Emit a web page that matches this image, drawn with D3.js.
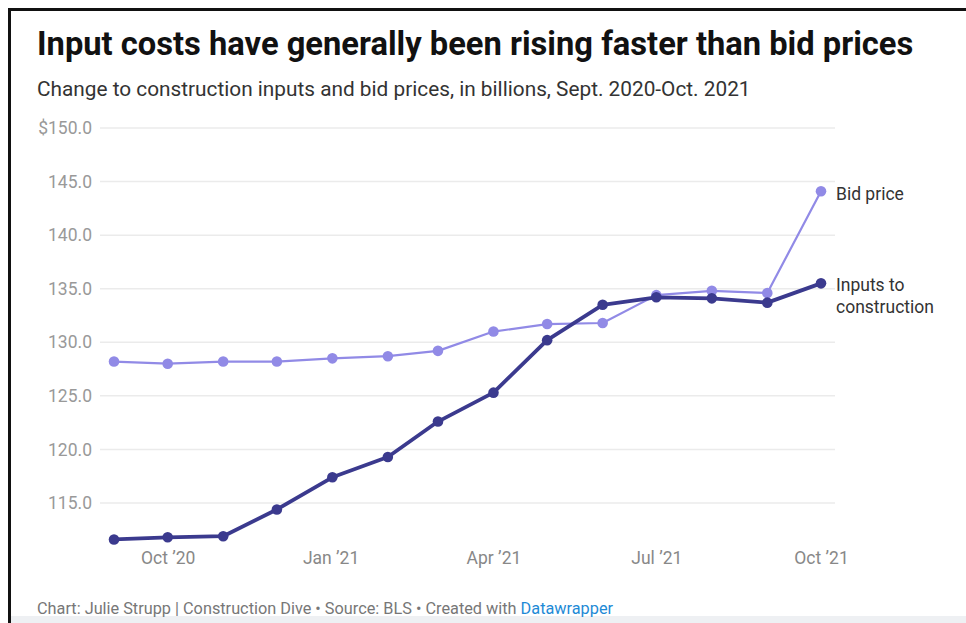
<!DOCTYPE html>
<html><head><meta charset="utf-8">
<script src="https://cdn.jsdelivr.net/npm/d3@7"></script>
<style>html,body{margin:0;padding:0;background:#fff;}svg{display:block;font-family:Roboto,"Noto Sans",sans-serif;}</style>
</head><body>
<svg id="c" width="966" height="623"></svg>
<script>
const months = ["2020-09","2020-10","2020-11","2020-12","2021-01","2021-02","2021-03","2021-04","2021-05","2021-06","2021-07","2021-08","2021-09","2021-10"];
const inputs = [111.6,111.8,111.9,114.4,117.4,119.3,122.6,125.3,130.2,133.5,134.2,134.1,133.7,135.5];
const bidPrice = [128.2,128.0,128.2,128.2,128.5,128.7,129.2,131.0,131.7,131.8,134.4,134.8,134.6,144.1];
const yTicks = [115,120,125,130,135,140,145,150];
const xTicks = ["2020-10","2020-12-31","2021-04","2021-07","2021-10"];
const xTickLabels = ["Oct \u201920","Jan \u201921","Apr \u201921","Jul \u201921","Oct \u201921"];

const parse = d3.timeParse("%Y-%m");
const dates = months.map(parse);
const svg = d3.select("#c");

// frame
svg.append("rect").attr("x",10).attr("y",616).attr("width",956).attr("height",7).attr("fill","#eef0f3");
svg.append("path").attr("d","M9.5,623V9.5H966").attr("fill","none").attr("stroke","#111").attr("stroke-width",3);

svg.append("text").attr("x",37).attr("y",55).attr("font-size",32.7).attr("font-weight",700).attr("fill","#111")
  .text("Input costs have generally been rising faster than bid prices");
svg.append("text").attr("x",37).attr("y",96).attr("font-size",20.8).attr("fill","#333")
  .text("Change to construction inputs and bid prices, in billions, Sept. 2020-Oct. 2021");

const x = d3.scaleTime().domain([dates[0], dates[dates.length-1]]).range([114,821]);
const y = d3.scaleLinear().domain([115,150]).range([503,128]);

// grid
const yAxis = d3.axisLeft(y).tickValues(yTicks).tickSize(0).tickPadding(0)
  .tickFormat(d => d===150 ? "$150.0" : d.toFixed(1));
const gy = svg.append("g").attr("transform","translate(92,0)").call(yAxis);
gy.select(".domain").remove();
gy.selectAll("text").attr("font-size",17.5).attr("fill","#999").attr("font-family","Roboto");
svg.append("g").selectAll("line").data(yTicks).join("line")
  .attr("x1",100).attr("x2",835).attr("y1",d=>y(d)).attr("y2",d=>y(d))
  .attr("stroke","#ebebeb").attr("stroke-width",1.5);

const xAxis = d3.axisBottom(x).tickValues(xTicks.map(t=>t.length>7?d3.timeParse("%Y-%m-%d")(t):parse(t)))
  .tickSize(0).tickPadding(0).tickFormat((d,i)=>xTickLabels[i]);
const gx = svg.append("g").attr("transform","translate(0,552)").call(xAxis);
gx.select(".domain").remove();
gx.selectAll("text").attr("font-size",17.5).attr("fill","#888").attr("font-family","Roboto");

const line = d3.line().x((d,i)=>x(dates[i])).y(d=>y(d));
const series = [
  {vals: bidPrice, color:"#918ae6", w:2.2},
  {vals: inputs, color:"#3b3a8e", w:3.8}
];
series.forEach(s=>{
  svg.append("path").datum(s.vals).attr("d",line).attr("fill","none")
    .attr("stroke",s.color).attr("stroke-width",s.w).attr("stroke-linejoin","round");
  svg.append("g").selectAll("circle").data(s.vals).join("circle")
    .attr("cx",(d,i)=>x(dates[i])).attr("cy",d=>y(d)).attr("r",5.3).attr("fill",s.color);
});

const lab = svg.append("g").attr("font-size",17.5).attr("fill","#333");
lab.append("text").attr("x",836).attr("y",y(bidPrice[13])+9).text("Bid price");
lab.append("text").attr("x",836).attr("y",y(inputs[13])+8).text("Inputs to");
lab.append("text").attr("x",836).attr("y",y(inputs[13])+30).text("construction");

const foot = svg.append("text").attr("x",37).attr("y",614).attr("font-size",16.3).attr("fill","#777");
foot.append("tspan").text("Chart: Julie Strupp | Construction Dive \u2022 Source: BLS \u2022 Created with ");
foot.append("tspan").attr("fill","#1e8ad6").text("Datawrapper");
</script>
</body></html>
